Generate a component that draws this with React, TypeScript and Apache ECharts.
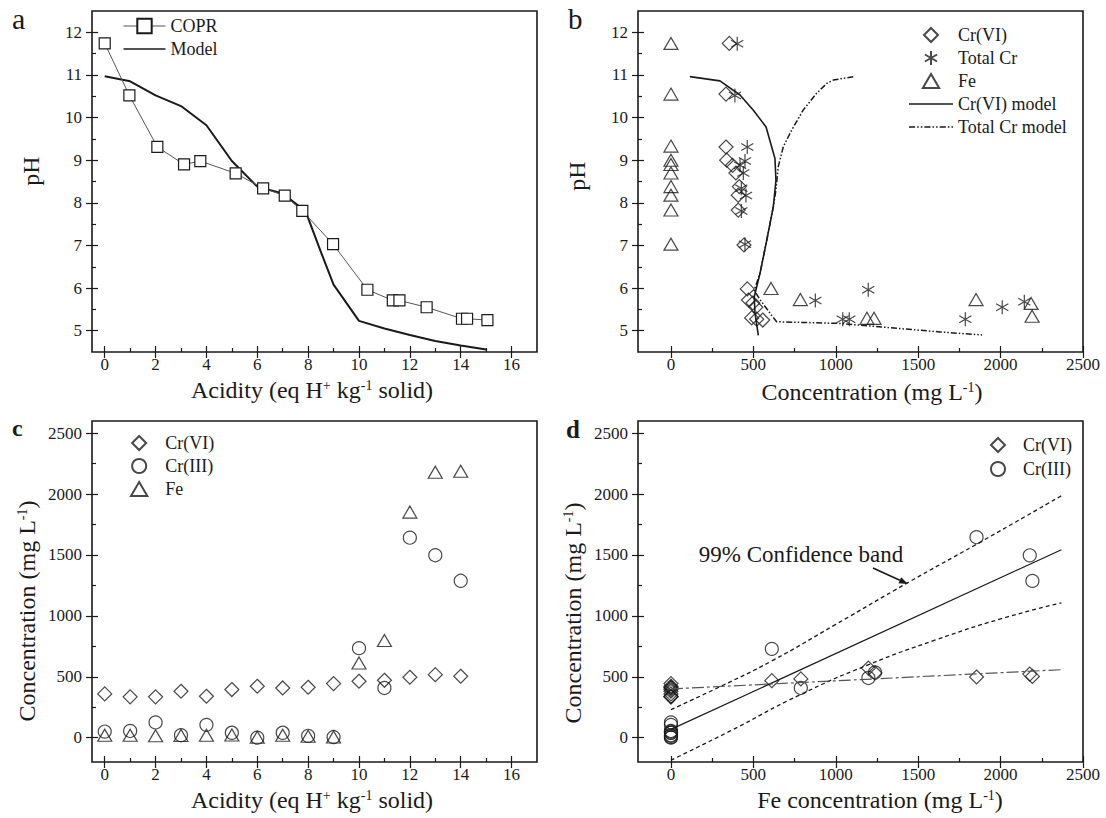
import React, { useEffect, useRef } from 'react';
import * as echarts from 'echarts';

const FONT = 'Liberation Serif';
const INK = '#1a1a1a';

// ---------- Panel a ----------
const coprAcidity = [0, 0.97, 2.07, 3.12, 3.76, 5.15, 6.23, 7.08, 7.77, 8.98, 10.33, 11.33, 11.59, 12.66, 14.05, 14.25, 15.05];
const coprPH = [11.74, 10.52, 9.31, 8.9, 8.98, 8.69, 8.34, 8.17, 7.81, 7.03, 5.96, 5.71, 5.71, 5.55, 5.28, 5.28, 5.25];
const modelAcidity = [0, 1, 2, 3, 4, 5, 6, 7, 7.9, 8.5, 9, 10, 11, 12, 13, 14, 15];
const modelPH = [10.97, 10.85, 10.52, 10.27, 9.82, 8.98, 8.38, 8.22, 7.8, 6.85, 6.08, 5.23, 5.05, 4.9, 4.76, 4.65, 4.56];

// ---------- Panel b ----------
const cr6BConc = [354, 334, 334, 338, 374, 394, 415, 408, 408, 443, 463, 470, 497, 515, 490, 520, 557];
const cr6BPH = [11.74, 10.55, 9.31, 9.0, 8.88, 8.7, 8.38, 8.18, 7.83, 7.01, 5.98, 5.72, 5.65, 5.55, 5.3, 5.27, 5.25];
const totCrBConc = [402, 388, 463, 449, 419, 439, 427, 455, 427, 449, 1197, 876, 2144, 2010, 1042, 1082, 1786];
const totCrBPH = [11.73, 10.52, 9.31, 8.98, 8.88, 8.7, 8.34, 8.17, 7.81, 7.03, 5.96, 5.71, 5.68, 5.55, 5.27, 5.27, 5.27];
const feBConc = [0, 0, 0, 0, 0, 0, 0, 0, 0, 0, 607, 785, 1189, 1232, 1851, 2185, 2191];
const feBPH = [11.74, 10.55, 9.33, 9.0, 8.9, 8.7, 8.38, 8.18, 7.83, 7.03, 5.99, 5.73, 5.29, 5.29, 5.73, 5.64, 5.34];
const cr6ModelConc = [115, 297, 419, 500, 577, 631, 637, 621, 581, 540, 505, 510, 530];
const cr6ModelPH = [10.96, 10.86, 10.53, 10.17, 9.78, 9.04, 8.53, 7.91, 7.12, 6.34, 5.79, 5.41, 4.89];
const totCrModelConc = [1106, 985, 945, 884, 803, 733, 682, 651, 637, 621, 581, 540, 505, 540, 601, 641, 1025, 1632, 1887];
const totCrModelPH = [10.96, 10.88, 10.8, 10.57, 10.18, 9.71, 9.32, 8.85, 8.3, 7.91, 7.12, 6.34, 5.95, 5.73, 5.41, 5.21, 5.17, 4.97, 4.9];

// ---------- Panel c ----------
const acidityC = [0, 1, 2, 3, 4, 5, 6, 7, 8, 9, 10, 11, 12, 13, 14];
const cr6C = [359, 335, 335, 381, 340, 395, 422, 408, 414, 444, 463, 471, 496, 517, 504];
const cr3C = [50, 55, 125, 20, 105, 40, 0, 40, 15, 5, 735, 408, 1642, 1498, 1288];
const feC = [20, 20, 15, 18, 20, 22, 3, 20, 12, 5, 613, 798, 1852, 2179, 2187];

// ---------- Panel d ----------
const feD = [0, 0, 0, 0, 0, 0, 0, 0, 0, 0, 612, 788, 1198, 1238, 1854, 2177, 2193];
const cr6D = [359, 335, 335, 381, 340, 395, 422, 408, 414, 444, 468, 482, 571, 531, 498, 522, 503];
const cr3D = [50, 55, 125, 20, 105, 40, 0, 40, 15, 5, 729, 408, 490, 536, 1646, 1497, 1287];
const fitFe = [0, 2369];
const fitCr3 = [68, 1543];
const upperFe = [0, 300, 612, 1000, 1440, 1854, 2369];
const upperCr3 = [230, 420, 630, 930, 1275, 1588, 1986];
const lowerFe = [0, 360, 780, 1200, 1600, 2000, 2369];
const lowerCr3 = [-185, 55, 350, 600, 800, 975, 1107];
const fitCr6Fe = [0, 2369];
const fitCr6 = [400, 558];

// ---------- Ticks ----------
const acidTicks = [0, 2, 4, 6, 8, 10, 12, 14, 16];
const acidMinor = [1, 3, 5, 7, 9, 11, 13, 15];
const phTicks = [5, 6, 7, 8, 9, 10, 11, 12];
const phMinor = [5.5, 6.5, 7.5, 8.5, 9.5, 10.5, 11.5];
const concTicks = [0, 500, 1000, 1500, 2000, 2500];
const concMinor = [250, 750, 1250, 1750, 2250];

const zip = (xs: number[], ys: number[]) => xs.map((x, i) => [x, ys[i]]);

function makeAxes(dim: 'x' | 'y', grid: number, min: number, max: number, major: number[], minor: number[]) {
  const base: any = {
    type: 'value',
    gridIndex: grid,
    min,
    max,
    position: dim === 'x' ? 'bottom' : 'left',
    axisLine: { show: false, onZero: false },
    splitLine: { show: false },
    minorTick: { show: false },
  };
  const tickStyle = { color: INK, width: 1.2 };
  return [
    {
      ...base,
      axisTick: { show: true, inside: false, length: 6, customValues: major, lineStyle: tickStyle },
      axisLabel: {
        show: true, customValues: major, margin: dim === 'x' ? 4 : 10, fontSize: 17, fontFamily: FONT, color: INK,
        formatter: (v: number) => String(v),
      },
    },
    {
      ...base,
      axisTick: { show: true, inside: true, length: 6, customValues: major, lineStyle: tickStyle },
      axisLabel: { show: false },
    },
    {
      ...base,
      axisTick: { show: true, inside: true, length: 4, customValues: minor, lineStyle: tickStyle },
      axisLabel: { show: false },
    },
  ];
}

const hollow = { color: 'transparent', borderColor: INK, borderWidth: 1.2 };
const STAR = 'path://M0,-10L0,10M-8.66,-5L8.66,5M-8.66,5L8.66,-5';
const ICON_DIAMOND = 'path://M7,0L14,7L7,14L0,7Z';
const ICON_TRIANGLE = 'path://M7,0L14,12L0,12Z';
const ICON_LINE = 'path://M0,0H44V1.6H0Z';
const ICON_DASHDOT = 'path://M0,0h6v1.5h-6z M8,0h1.5v1.5h-1.5z M11.5,0h1.5v1.5h-1.5z M15,0h6v1.5h-6z M23,0h1.5v1.5h-1.5z M26.5,0h1.5v1.5h-1.5z M30,0h6v1.5h-6z M38,0h1.5v1.5h-1.5z M41.5,0h1.5v1.5h-1.5z';

const supRich = { sup: { fontSize: 14, fontFamily: FONT, fill: INK, verticalAlign: 'top', lineHeight: 14 } };

function txt(x: number, y: number, text: string, size: number, opts: any = {}) {
  return {
    type: 'text',
    x,
    y,
    rotation: opts.rotation || 0,
    style: {
      text,
      fontSize: size,
      fontFamily: FONT,
      fontWeight: opts.bold ? 'bold' : 'normal',
      fill: INK,
      align: opts.align || 'center',
      verticalAlign: 'middle',
      rich: supRich,
    },
  };
}

function arrow(x1: number, y1: number, x2: number, y2: number) {
  const dx = x2 - x1;
  const dy = y2 - y1;
  const len = Math.sqrt(dx * dx + dy * dy);
  const ux = dx / len;
  const uy = dy / len;
  const hl = 9;
  const hw = 3.2;
  const bx = x2 - ux * hl;
  const by = y2 - uy * hl;
  return [
    { type: 'line', shape: { x1, y1, x2: bx, y2: by }, style: { stroke: INK, lineWidth: 1.6 } },
    {
      type: 'polygon',
      shape: { points: [[x2, y2], [bx - uy * hw, by + ux * hw], [bx + uy * hw, by - ux * hw]] },
      style: { fill: INK },
    },
  ];
}

const grids = [
  { left: 92, top: 11, width: 445, height: 341 },
  { left: 638, top: 11, width: 445, height: 341 },
  { left: 92, top: 421, width: 445, height: 341 },
  { left: 638, top: 421, width: 445, height: 341 },
].map((g) => ({ ...g, show: true, borderColor: INK, borderWidth: 1.6, backgroundColor: 'transparent', containLabel: false }));

const legendText = { fontSize: 18, lineHeight: 20, fontFamily: FONT, color: INK };

export default function App() {
  const ref = useRef<HTMLDivElement>(null);
  useEffect(() => {
    if (!ref.current) return;
    const chart = echarts.init(ref.current, null, { renderer: 'svg' });
    const xAxis = [
      ...makeAxes('x', 0, -0.5, 17, acidTicks, acidMinor),
      ...makeAxes('x', 1, -200, 2500, concTicks, concMinor),
      ...makeAxes('x', 2, -0.5, 17, acidTicks, acidMinor),
      ...makeAxes('x', 3, -200, 2500, concTicks, concMinor),
    ];
    const yAxis = [
      ...makeAxes('y', 0, 4.5, 12.5, phTicks, phMinor),
      ...makeAxes('y', 1, 4.5, 12.5, phTicks, phMinor),
      ...makeAxes('y', 2, -200, 2600, concTicks, concMinor),
      ...makeAxes('y', 3, -200, 2600, concTicks, concMinor),
    ];
    const ax = (g: number) => ({ xAxisIndex: 3 * g, yAxisIndex: 3 * g });
    const lineItem = { color: INK, borderWidth: 0 };

    const series: any[] = [
      // a
      {
        type: 'line', name: 'COPR', ...ax(0), data: zip(coprAcidity, coprPH), symbol: 'rect', symbolSize: 11,
        itemStyle: { color: '#fff', borderColor: INK, borderWidth: 1.2 }, lineStyle: { color: '#555', width: 1 }, z: 3,
      },
      {
        type: 'line', name: 'Model', ...ax(0), data: zip(modelAcidity, modelPH), symbol: 'none',
        itemStyle: lineItem, lineStyle: { color: INK, width: 2 }, z: 2,
      },
      // b
      { type: 'scatter', name: 'Cr(VI)', ...ax(1), data: zip(cr6BConc, cr6BPH), symbol: 'diamond', symbolSize: 14, itemStyle: hollow },
      { type: 'scatter', name: 'Total Cr', ...ax(1), data: zip(totCrBConc, totCrBPH), symbol: STAR, symbolSize: 14, symbolKeepAspect: true, itemStyle: hollow },
      { type: 'scatter', name: 'Fe', ...ax(1), data: zip(feBConc, feBPH), symbol: 'triangle', symbolSize: [14, 12], itemStyle: hollow },
      {
        type: 'line', name: 'Cr(VI) model', ...ax(1), data: zip(cr6ModelConc, cr6ModelPH), symbol: 'none',
        itemStyle: lineItem, lineStyle: { color: INK, width: 1.6 },
      },
      {
        type: 'line', name: 'Total Cr model', ...ax(1), data: zip(totCrModelConc, totCrModelPH), symbol: 'none',
        itemStyle: lineItem, lineStyle: { color: INK, width: 1.5, type: [6, 2, 1.5, 2, 1.5, 2] },
      },
      // c
      { type: 'scatter', name: 'Cr(VI)', ...ax(2), data: zip(acidityC, cr6C), symbol: 'diamond', symbolSize: 14, itemStyle: hollow },
      { type: 'scatter', name: 'Cr(III)', ...ax(2), data: zip(acidityC, cr3C), symbol: 'circle', symbolSize: 13, itemStyle: hollow },
      { type: 'scatter', name: 'Fe', ...ax(2), data: zip(acidityC, feC), symbol: 'triangle', symbolSize: [14, 12], itemStyle: hollow },
      // d
      { type: 'scatter', name: 'Cr(VI)', ...ax(3), data: zip(feD, cr6D), symbol: 'diamond', symbolSize: 14, itemStyle: hollow },
      { type: 'scatter', name: 'Cr(III)', ...ax(3), data: zip(feD, cr3D), symbol: 'circle', symbolSize: 13, itemStyle: hollow },
      {
        type: 'line', name: 'fit Cr(III)', ...ax(3), data: zip(fitFe, fitCr3), symbol: 'none',
        itemStyle: lineItem, lineStyle: { color: INK, width: 1.2 },
      },
      {
        type: 'line', name: 'upper band', ...ax(3), data: zip(upperFe, upperCr3), symbol: 'none', smooth: 0.5,
        itemStyle: lineItem, lineStyle: { color: INK, width: 1.3, type: [4, 3] },
      },
      {
        type: 'line', name: 'lower band', ...ax(3), data: zip(lowerFe, lowerCr3), symbol: 'none', smooth: 0.5,
        itemStyle: lineItem, lineStyle: { color: INK, width: 1.3, type: [4, 3] },
      },
      {
        type: 'line', name: 'fit Cr(VI)', ...ax(3), data: zip(fitCr6Fe, fitCr6), symbol: 'none',
        itemStyle: { color: '#555', borderWidth: 0 }, lineStyle: { color: '#555', width: 1.2, type: [12, 3, 3, 3] },
      },
    ];

    const common = { orient: 'vertical', selectedMode: false, symbolKeepAspect: true, padding: 0, textStyle: legendText };
    const legend = [
      {
        ...common, left: 123, top: 16, itemWidth: 42, itemHeight: 18, itemGap: 3, lineStyle: { width: 1 },
        data: ['COPR', { name: 'Model', icon: ICON_LINE }],
      },
      {
        ...common, left: 909, top: 25, itemWidth: 44, itemHeight: 14, itemGap: 3,
        data: [
          { name: 'Cr(VI)', icon: ICON_DIAMOND },
          'Total Cr',
          { name: 'Fe', icon: ICON_TRIANGLE },
          { name: 'Cr(VI) model', icon: ICON_LINE },
          { name: 'Total Cr model', icon: ICON_DASHDOT },
        ],
      },
      {
        ...common, left: 130, top: 433, itemWidth: 42, itemHeight: 14, itemGap: 3,
        data: [{ name: 'Cr(VI)', icon: ICON_DIAMOND }, { name: 'Cr(III)', icon: 'circle' }, { name: 'Fe', icon: ICON_TRIANGLE }],
      },
      {
        ...common, left: 990, top: 435, itemWidth: 40, itemHeight: 14, itemGap: 4,
        data: [{ name: 'Cr(VI)', icon: ICON_DIAMOND }, { name: 'Cr(III)', icon: 'circle' }],
      },
    ];

    const R = Math.PI / 2;
    const graphic: any[] = [
      txt(12, 18, 'a', 30, { align: 'left' }),
      txt(568, 19, 'b', 29, { align: 'left' }),
      txt(12, 428, 'c', 24, { align: 'left', bold: true }),
      txt(566, 429, 'd', 25, { align: 'left', bold: true }),
      txt(312, 390, 'Acidity (eq H{sup|+} kg{sup|-1} solid)', 24),
      txt(872, 392, 'Concentration (mg L{sup|-1})', 24),
      txt(312, 800, 'Acidity (eq H{sup|+} kg{sup|-1} solid)', 24),
      txt(880, 800, 'Fe concentration (mg L{sup|-1})', 24),
      txt(31, 171, 'pH', 24, { rotation: R }),
      txt(577, 176, 'pH', 24, { rotation: R }),
      txt(27, 611, 'Concentration (mg L{sup|-1})', 24, { rotation: R }),
      txt(573, 613, 'Concentration (mg L{sup|-1})', 24, { rotation: R }),
      txt(801, 554, '99% Confidence band', 23),
      ...arrow(873, 568, 908, 584),
    ];

    chart.setOption({
      animation: false,
      backgroundColor: '#fff',
      textStyle: { fontFamily: FONT },
      grid: grids,
      xAxis,
      yAxis,
      legend,
      series,
      graphic,
    });
    return () => chart.dispose();
  }, []);
  return <div ref={ref} style={{ position: 'absolute', left: 0, top: 0, width: 1106, height: 818 }} />;
}
